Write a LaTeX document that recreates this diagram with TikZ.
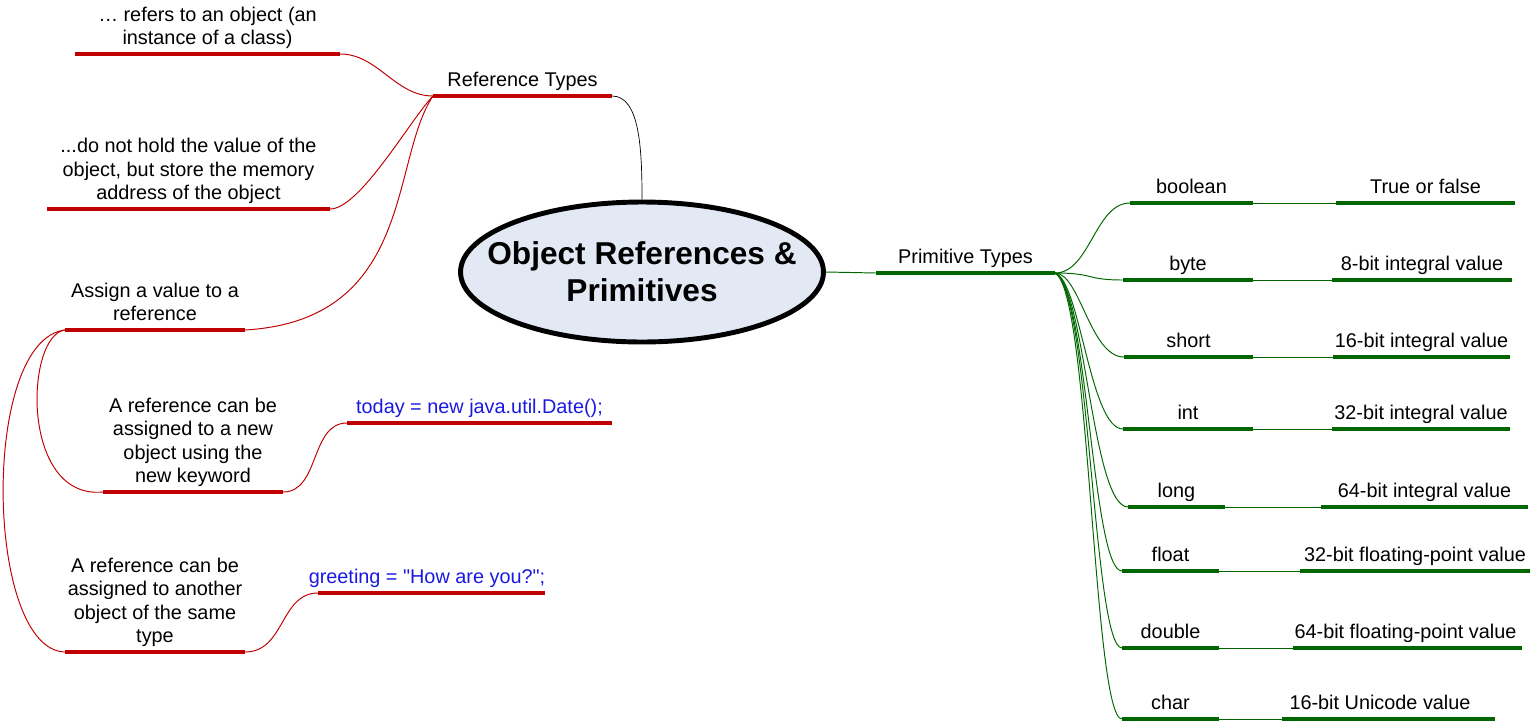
\documentclass[tikz,border=0pt]{standalone}
\usepackage{fontspec}
\setmainfont{Liberation Sans}
\usepackage{tikz}
\usetikzlibrary{shapes.geometric}

\definecolor{barred}{RGB}{192,0,0}
\definecolor{bargreen}{RGB}{0,102,0}
\definecolor{codeblue}{RGB}{25,25,225}
\definecolor{topicfill}{RGB}{227,233,244}

\tikzset{
	lbl/.style={anchor=south, inner sep=0pt, text depth=0pt, align=center, font=\fontsize{11.3}{13.3}\selectfont},
	codelbl/.style={lbl, text=codeblue},
	redbar/.style={draw=barred, line width=2.8pt},
	greenbar/.style={draw=bargreen, line width=2.8pt},
	redlink/.style={draw=barred, line width=0.55pt},
	greenlink/.style={draw=bargreen, line width=0.55pt},
	topic/.style={ellipse, draw=black, line width=2.8pt, fill=topicfill, minimum width=7.2cm, minimum height=2.8cm, inner xsep=-15pt, inner ysep=0pt, align=center, font=\fontsize{18}{21}\selectfont\bfseries}
}

\begin{document}
\begin{tikzpicture}[x=0.02cm, y=-0.02cm]
		\useasboundingbox (0,0) rectangle (1535,724);
		\node[topic] (topic) at (642,272) {Object References \&\\Primitives};

		% reference side
		\coordinate (reftypesL) at (433,96);
		\coordinate (reftypesR) at (612,96);
		\draw[redbar] (reftypesL) -- (reftypesR);
		\node[lbl] (reftypes) at (522.5,87) {Reference Types};
		\coordinate (refersL) at (75,54);
		\coordinate (refersR) at (340,54);
		\draw[redbar] (refersL) -- (refersR);
		\node[lbl] (refers) at (207.5,45) {… refers to an object (an\\instance of a class)};
		\coordinate (holdL) at (47,209);
		\coordinate (holdR) at (330,209);
		\draw[redbar] (holdL) -- (holdR);
		\node[lbl] (hold) at (188.5,200) {...do not hold the value of the\\object, but store the memory\\address of the object};
		\coordinate (assignL) at (65,330);
		\coordinate (assignR) at (245,330);
		\draw[redbar] (assignL) -- (assignR);
		\node[lbl] (assign) at (155,321) {Assign a value to a\\reference};
		\coordinate (newobjL) at (103,492);
		\coordinate (newobjR) at (283,492);
		\draw[redbar] (newobjL) -- (newobjR);
		\node[lbl] (newobj) at (193,483) {A reference can be\\assigned to a new\\object using the\\new keyword};
		\coordinate (todayL) at (347,423);
		\coordinate (todayR) at (612,423);
		\draw[redbar] (todayL) -- (todayR);
		\node[codelbl] (today) at (479.5,414) {today = new java.util.Date();};
		\coordinate (anotherL) at (65,652);
		\coordinate (anotherR) at (245,652);
		\draw[redbar] (anotherL) -- (anotherR);
		\node[lbl] (another) at (155,643) {A reference can be\\assigned to another\\object of the same\\type};
		\coordinate (greetL) at (318,593);
		\coordinate (greetR) at (545,593);
		\draw[redbar] (greetL) -- (greetR);
		\node[codelbl] (greet) at (427,584) {greeting = \textquotedbl How are you?\textquotedbl;};

		\draw (reftypesR) .. controls (640,96) and (642,150) .. (topic.north);
		\draw[redlink] (reftypesL) .. controls (395,96) and (378,54) .. (refersR);
		\draw[redlink] (reftypesL) .. controls (410,120) and (360,209) .. (holdR);
		\draw[redlink] (reftypesL) .. controls (390,160) and (415,320) .. (assignR);
		\draw[redlink] (assignL) .. controls (25,335) and (20,500) .. (newobjL);
		\draw[redlink] (assignL) .. controls (-20,340) and (-15,650) .. (anotherL);
		\draw[redlink] (newobjR) .. controls (320,492) and (310,423) .. (todayL);
		\draw[redlink] (anotherR) .. controls (285,652) and (280,593) .. (greetL);

		% primitive side
		\coordinate (primtypesL) at (876,273);
		\coordinate (primtypesR) at (1055,273);
		\draw[greenbar] (primtypesL) -- (primtypesR);
		\node[lbl] (primtypes) at (965.5,264) {Primitive Types};
		\draw[greenlink] (topic.east) -- (primtypesL);

		\coordinate (booleanL) at (1130,203);
		\coordinate (booleanR) at (1253,203);
		\coordinate (booleanvalL) at (1336,203);
		\coordinate (booleanvalR) at (1515,203);
		\draw[greenbar] (booleanL) -- (booleanR);
		\draw[greenbar] (booleanvalL) -- (booleanvalR);
		\node[lbl] (boolean) at (1191.5,194) {boolean};
		\node[lbl] (booleanval) at (1425.5,194) {True or false};

		\coordinate (byteL) at (1123,280);
		\coordinate (byteR) at (1253,280);
		\coordinate (bytevalL) at (1332,280);
		\coordinate (bytevalR) at (1512,280);
		\draw[greenbar] (byteL) -- (byteR);
		\draw[greenbar] (bytevalL) -- (bytevalR);
		\node[lbl] (byte) at (1188,271) {byte};
		\node[lbl] (byteval) at (1422,271) {8-bit integral value};

		\coordinate (shortL) at (1124,357);
		\coordinate (shortR) at (1253,357);
		\coordinate (shortvalL) at (1333,357);
		\coordinate (shortvalR) at (1510,357);
		\draw[greenbar] (shortL) -- (shortR);
		\draw[greenbar] (shortvalL) -- (shortvalR);
		\node[lbl] (short) at (1188.5,348) {short};
		\node[lbl] (shortval) at (1421.5,348) {16-bit integral value};

		\coordinate (intL) at (1123,429);
		\coordinate (intR) at (1253,429);
		\coordinate (intvalL) at (1332,429);
		\coordinate (intvalR) at (1510,429);
		\draw[greenbar] (intL) -- (intR);
		\draw[greenbar] (intvalL) -- (intvalR);
		\node[lbl] (int) at (1188,420) {int};
		\node[lbl] (intval) at (1421,420) {32-bit integral value};

		\coordinate (longL) at (1128,507);
		\coordinate (longR) at (1225,507);
		\coordinate (longvalL) at (1321,507);
		\coordinate (longvalR) at (1528,507);
		\draw[greenbar] (longL) -- (longR);
		\draw[greenbar] (longvalL) -- (longvalR);
		\node[lbl] (long) at (1176.5,498) {long};
		\node[lbl] (longval) at (1424.5,498) {64-bit integral value};

		\coordinate (floatL) at (1122,571);
		\coordinate (floatR) at (1219,571);
		\coordinate (floatvalL) at (1300,571);
		\coordinate (floatvalR) at (1530,571);
		\draw[greenbar] (floatL) -- (floatR);
		\draw[greenbar] (floatvalL) -- (floatvalR);
		\node[lbl] (float) at (1170.5,562) {float};
		\node[lbl] (floatval) at (1415,562) {32-bit floating-point value};

		\coordinate (doubleL) at (1122,648);
		\coordinate (doubleR) at (1219,648);
		\coordinate (doublevalL) at (1293,648);
		\coordinate (doublevalR) at (1522,648);
		\draw[greenbar] (doubleL) -- (doubleR);
		\draw[greenbar] (doublevalL) -- (doublevalR);
		\node[lbl] (double) at (1170.5,639) {double};
		\node[lbl] (doubleval) at (1405.5,639) {64-bit floating-point value};

		\coordinate (charL) at (1122,719);
		\coordinate (charR) at (1219,719);
		\coordinate (charvalL) at (1282,719);
		\coordinate (charvalR) at (1495,719);
		\draw[greenbar] (charL) -- (charR);
		\draw[greenbar] (charvalL) -- (charvalR);
		\node[lbl] (char) at (1170.5,710) {char};
		\node[lbl] (charval) at (1380,710) {16-bit Unicode value};

		\draw[greenlink] (primtypesR) .. controls (1090,273) and (1095,203) .. (booleanL);
		\draw[greenlink] (primtypesR) .. controls (1095,273) and (1085,280) .. (byteL);
		\draw[greenlink] (primtypesR) .. controls (1080,273) and (1090,357) .. (shortL);
		\draw[greenlink] (primtypesR) .. controls (1080,280) and (1090,429) .. (intL);
		\draw[greenlink] (primtypesR) .. controls (1085,285) and (1092,507) .. (longL);
		\draw[greenlink] (primtypesR) .. controls (1088,290) and (1092,571) .. (floatL);
		\draw[greenlink] (primtypesR) .. controls (1090,290) and (1093,648) .. (doubleL);
		\draw[greenlink] (primtypesR) .. controls (1090,290) and (1093,719) .. (charL);

		\draw[greenlink] (booleanR) -- (booleanvalL);
		\draw[greenlink] (byteR) -- (bytevalL);
		\draw[greenlink] (shortR) -- (shortvalL);
		\draw[greenlink] (intR) -- (intvalL);
		\draw[greenlink] (longR) -- (longvalL);
		\draw[greenlink] (floatR) -- (floatvalL);
		\draw[greenlink] (doubleR) -- (doublevalL);
		\draw[greenlink] (charR) -- (charvalL);
	\end{tikzpicture}
\end{document}
